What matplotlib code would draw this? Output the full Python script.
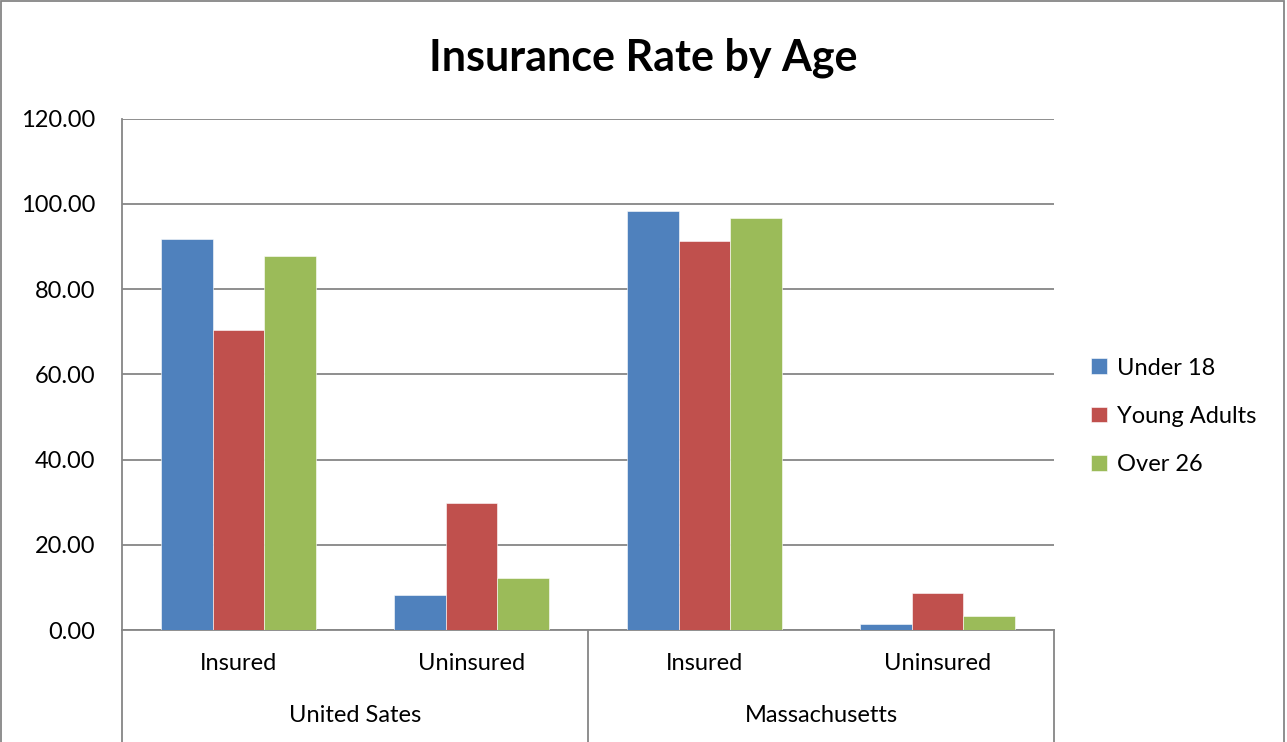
#!/usr/bin/env python3
import matplotlib
matplotlib.use('Agg')
import matplotlib.pyplot as plt
import matplotlib.transforms as mtransforms
from matplotlib.patches import Rectangle
import numpy as np

plt.rcParams['font.family'] = ['Lato', 'DejaVu Sans']

# data
regions    = ["United Sates", "Massachusetts"]
statuses   = ["Insured", "Uninsured"]
series     = ["Under 18", "Young Adults", "Over 26"]
under_18   = [91.8, 8.2, 98.4, 1.5]
young_adul = [70.3, 29.7, 91.2, 8.7]
over_26    = [87.7, 12.3, 96.7, 3.2]
values     = [under_18, young_adul, over_26]

COLORS = ["#4F81BD", "#C0504D", "#9BBB59"]
GRID   = "#868686"
FS     = 17

fig = plt.figure(figsize=(12.87, 7.42), dpi=100)
ax = fig.add_axes([0.0948, 0.1509, 0.7242, 0.6891])

x = np.arange(len(under_18))
w = 0.222
for i, (vals, col, lab) in enumerate(zip(values, COLORS, series)):
    ax.bar(x + (i - 1) * w, vals, width=w, color=col, label=lab,
           edgecolor="white", linewidth=0.4, zorder=3)

ax.set_xlim(-0.5, len(x) - 0.5)
ax.set_ylim(0, 120)
ax.set_yticks(np.arange(0, 121, 20))
ax.set_yticklabels([f"{v:.2f}" for v in np.arange(0, 121, 20)], fontsize=FS)
ax.tick_params(axis="y", length=0, pad=19)
ax.set_xticks([])
ax.grid(True, axis="y", color=GRID, linewidth=1.3, zorder=0)
for s in ["top", "right"]:
    ax.spines[s].set_visible(False)
ax.spines["left"].set_color(GRID)
ax.spines["left"].set_linewidth(1.3)
ax.spines["bottom"].set_color(GRID)
ax.spines["bottom"].set_linewidth(1.3)

# two-level category axis
trans = mtransforms.blended_transform_factory(ax.transData, ax.transAxes)
for k, lab in enumerate(statuses * len(regions)):
    ax.text(x[k], -0.066, lab, transform=trans, ha="center", va="center",
            fontsize=FS)
for j, reg in enumerate(regions):
    ax.text(j * 2 + 0.5, -0.168, reg, transform=trans, ha="center",
            va="center", fontsize=FS)
for xb in [-0.5, 1.5, 3.5]:
    ax.plot([xb, xb], [0, -0.3], transform=trans, color=GRID,
            linewidth=1.3, clip_on=False)

fig.text(0.5, 0.922, "Insurance Rate by Age", ha="center", va="center",
         fontsize=31, fontweight="bold")

ax.legend(loc="center left", bbox_to_anchor=(1.03, 0.418), frameon=False,
          fontsize=FS, handlelength=0.65, handleheight=0.65,
          handletextpad=0.45, labelspacing=1.15, borderaxespad=0)

fig.add_artist(Rectangle((0.001, -0.01), 0.997, 1.008, transform=fig.transFigure,
                         fill=False, edgecolor=GRID, linewidth=1.3))

fig.savefig("out.png", dpi=100)
